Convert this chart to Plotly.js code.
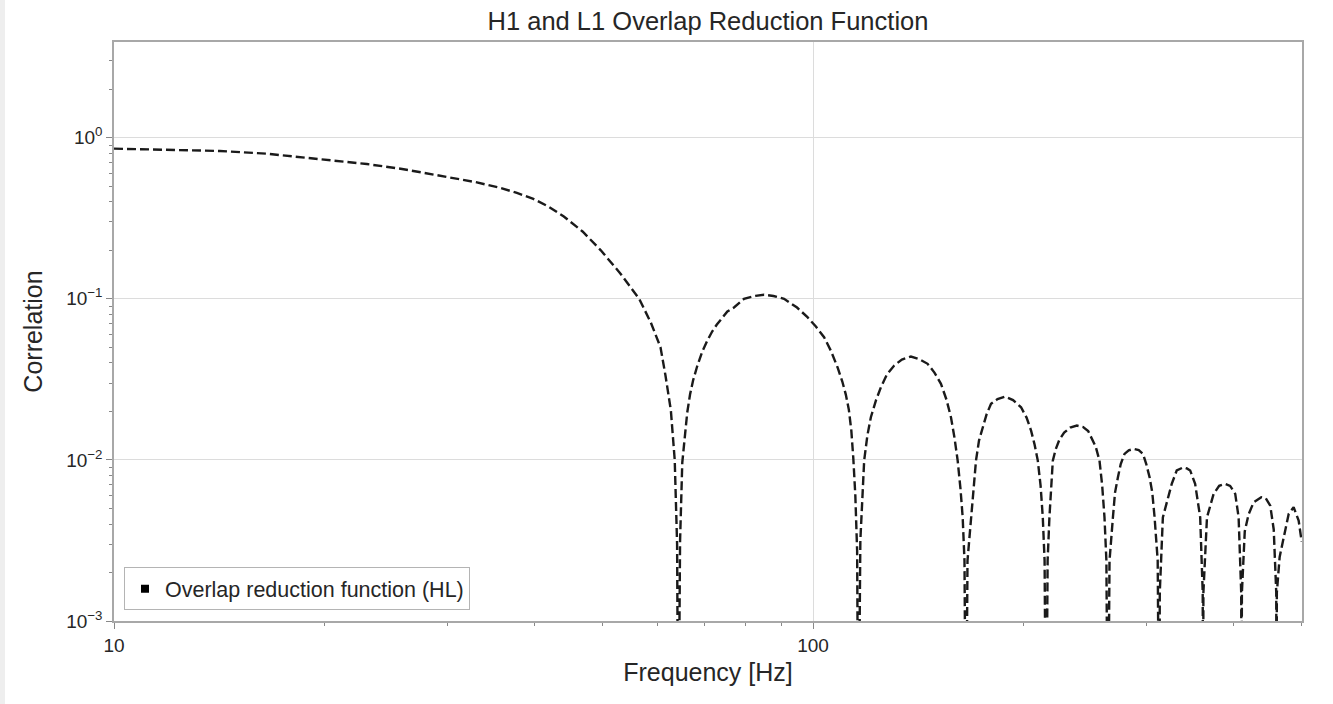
<!DOCTYPE html>
<html>
<head>
<meta charset="utf-8">
<script src="https://cdn.plot.ly/plotly-3.0.1.min.js"></script>
<style>
  html, body { margin: 0; padding: 0; background: #eeeeee; }
  #chart { position: absolute; left: 5px; top: 0; width: 1328px; height: 704px; background: #ffffff; }
</style>
</head>
<body>
<div id="chart"></div>
<script>
// Frequency [Hz]
const freq = [
  10, 12.6, 14.17, 16.5, 20.6, 23.0, 25.7, 30.3, 32.9, 35.7, 37.7, 39.8, 41.8, 44.0, 46.8, 49.7, 53.0, 56.4, 58.6, 60.5, 61.5, 62.6, 63.4, 63.9, 64.15,
  64.53, 65.0, 65.53, 66.07, 66.68, 67.35, 68.25, 69.43, 70.59, 71.72, 72.84, 74.13, 75.41, 77.07, 79.65, 82.71, 85.09,
  87.77, 90.89, 94.86, 98.17, 100.93, 103.7, 106.01, 108.38, 110.11, 111.39, 112.5, 113.43, 114.18, 114.94, 115.62, 116.08,
  116.85, 118.33, 119.58, 120.97, 122.98, 125.03, 127.53, 130.63, 133.99, 138.03, 141.71, 145.84, 149.15, 152.38, 155.17, 157.49, 159.32, 161.01, 162.5, 163.69, 164.66, 165.48,
  166.3, 168.23, 169.51, 171.03, 172.73, 174.85, 177.05, 179.7, 183.6, 188.2, 193.22, 198.39, 202.02, 205.04, 207.43, 209.63, 211.57, 213.11, 214.38, 215.44,
  216.53, 217.82, 219.04, 220.27, 222.31, 225.12, 228.64, 233.21, 238.42, 243.42, 247.47, 249.93, 253.67, 256.87, 259.17, 261.14, 262.78, 264.09,
  265.5, 268.49, 270.36, 272.95, 275.48, 278.96, 282.85, 287.75, 292.34, 296.43, 299.67, 302.95, 305.66, 307.99, 311.16, 312.8,
  313.3, 316.5, 325.9, 331.3, 335.0, 338.8, 342.5, 346.3, 352.0, 357.9, 360.9, 361.3,
  361.7, 366.0, 374.1, 381.0, 388.6, 395.0, 401.7, 406.2, 409.7, 410.1,
  410.6, 414.5, 419.8, 426.8, 437.7, 444.0, 450.8, 456.0, 459.8, 460.2,
  460.7, 465.0, 471.2, 479.0, 486.9, 495.0, 500.0
];
// |Overlap reduction function|
const corr = [
  0.855, 0.834, 0.827, 0.796, 0.723, 0.686, 0.642, 0.569, 0.53, 0.4878, 0.4541, 0.4168, 0.3745, 0.3245, 0.2618, 0.2, 0.1436, 0.1, 0.0712, 0.05, 0.0334, 0.0203, 0.01, 0.003, 1e-4,
  0.00316, 0.00962, 0.01376, 0.01967, 0.02544, 0.03109, 0.03798, 0.04706, 0.05508, 0.06262, 0.06925, 0.07655, 0.08341, 0.08831, 0.1, 0.1042, 0.1059,
  0.1041, 0.1, 0.0883, 0.07687, 0.0673, 0.05774, 0.04774, 0.0376, 0.03064, 0.02544, 0.02053, 0.0152, 0.01019, 0.006, 0.00273, 1e-4,
  0.00316, 0.0099, 0.01416, 0.01839, 0.02335, 0.02825, 0.03387, 0.03853, 0.04198, 0.04382, 0.04228, 0.03948, 0.03485, 0.02965, 0.02368, 0.01839, 0.01376, 0.0099, 0.00663, 0.0044, 0.00237, 1e-4,
  0.00237, 0.0044, 0.00693, 0.0099, 0.01318, 0.01594, 0.01912, 0.02228, 0.02385, 0.02472, 0.02351, 0.02122, 0.01831, 0.0152, 0.01245, 0.0099, 0.00693, 0.0044, 0.00237, 1e-4,
  0.00237, 0.0044, 0.00693, 0.0099, 0.01159, 0.01337, 0.01477, 0.01587, 0.01633, 0.01598, 0.0151, 0.01382, 0.01209, 0.0099, 0.00693, 0.0044, 0.00237, 1e-4,
  0.00237, 0.0044, 0.00627, 0.0078, 0.00942, 0.0109, 0.01146, 0.0117, 0.0115, 0.0109, 0.00942, 0.0078, 0.00627, 0.0044, 0.00237, 1e-4,
  0.0015, 0.0044, 0.0071, 0.0086, 0.00885, 0.009, 0.00885, 0.0086, 0.0071, 0.0044, 0.0015, 1e-4,
  0.0015, 0.0044, 0.00615, 0.0069, 0.0071, 0.0069, 0.00615, 0.0044, 0.0015, 1e-4,
  0.0015, 0.0036, 0.0046, 0.00545, 0.00586, 0.0058, 0.0052, 0.0037, 0.0015, 1e-4,
  0.0015, 0.0025, 0.0033, 0.00462, 0.00508, 0.0042, 0.0031
];

const seriesName = 'Overlap reduction function (HL)';
const titleText = 'H1 and L1 Overlap Reduction Function';
const xLabel = 'Frequency [Hz]';
const yLabel = 'Correlation';

const xTickVals = [10, 100];
const xTickText = ['10', '100'];
const xMinorVals = [20, 30, 40, 50, 60, 70, 80, 90, 200, 300, 400, 500];
const yTickVals = [0.001, 0.01, 0.1, 1];
const yTickText = ['10<sup>\u22123</sup>', '10<sup>\u22122</sup>', '10<sup>\u22121</sup>', '10<sup>0</sup>'];
const yMinorVals = [0.002, 0.003, 0.004, 0.005, 0.006, 0.007, 0.008, 0.009,
                    0.02, 0.03, 0.04, 0.05, 0.06, 0.07, 0.08, 0.09,
                    0.2, 0.3, 0.4, 0.5, 0.6, 0.7, 0.8, 0.9, 2, 3];

const FONT = 'Liberation Sans, Arial, Helvetica, sans-serif';

const traces = [
  {
    x: freq, y: corr, type: 'scatter', mode: 'lines',
    line: { color: '#1a1a1a', width: 2.4, dash: '9px,4px' },
    showlegend: false, hoverinfo: 'x+y'
  },
  {
    x: [null], y: [null], type: 'scatter', mode: 'markers',
    marker: { symbol: 'square', size: 8, color: '#000000' },
    name: seriesName, showlegend: true
  }
];

const axisCommon = {
  showline: true, mirror: true, linecolor: '#a8a8a8', linewidth: 1.5,
  showgrid: true, gridcolor: '#dcdcdc', gridwidth: 1,
  zeroline: false,
  ticks: 'outside', ticklen: 6, tickwidth: 1, tickcolor: '#888888',
  tickfont: { family: FONT, size: 19, color: '#262626' },
  tickmode: 'array'
};

const layout = {
  width: 1328, height: 704,
  margin: { l: 109, r: 31, t: 42, b: 83, pad: 0 },
  paper_bgcolor: '#ffffff', plot_bgcolor: '#ffffff',
  font: { family: FONT, color: '#262626' },
  title: {
    text: titleText, font: { family: FONT, size: 25.5, color: '#262626' },
    x: 0.5, xref: 'paper', xanchor: 'center',
    y: 1 - 21.5 / 704, yref: 'container', yanchor: 'middle'
  },
  xaxis: Object.assign({}, axisCommon, {
    type: 'log', range: [1, Math.log10(500.5)],
    tickvals: xTickVals, ticktext: xTickText,
    minor: { tickvals: xMinorVals, ticks: 'outside', ticklen: 3.5, tickwidth: 1, tickcolor: '#888888', showgrid: false },
    title: { text: xLabel, font: { family: FONT, size: 25, color: '#262626' }, standoff: 9 }
  }),
  yaxis: Object.assign({}, axisCommon, {
    type: 'log', range: [-3, 0.594],
    tickvals: yTickVals, ticktext: yTickText,
    minor: { tickvals: yMinorVals, ticks: 'outside', ticklen: 3.5, tickwidth: 1, tickcolor: '#888888', showgrid: false },
    title: { text: yLabel, font: { family: FONT, size: 25, color: '#262626' }, standoff: 16 }
  }),
  legend: {
    x: 10 / 1188, y: 10.7 / 579, xanchor: 'left', yanchor: 'bottom',
    bgcolor: '#ffffff', bordercolor: '#b4b4b4', borderwidth: 1,
    font: { family: FONT, size: 21.5, color: '#262626' }
  },
  showlegend: true
};

Plotly.newPlot('chart', traces, layout, { displayModeBar: false, responsive: false });
</script>
</body>
</html>
